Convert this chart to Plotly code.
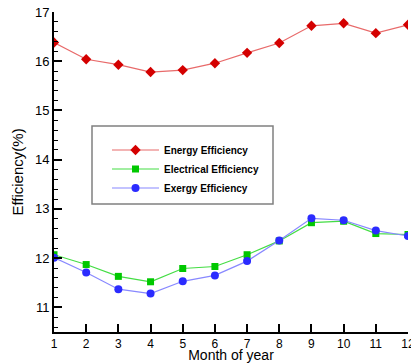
import plotly.graph_objects as go

months = [1, 2, 3, 4, 5, 6, 7, 8, 9, 10, 11, 12]
energy = [16.38, 16.04, 15.93, 15.78, 15.82, 15.96, 16.17, 16.37, 16.72, 16.77, 16.57, 16.74]
electrical = [12.07, 11.87, 11.63, 11.52, 11.79, 11.83, 12.07, 12.35, 12.72, 12.75, 12.50, 12.48]
exergy = [12.01, 11.71, 11.37, 11.28, 11.53, 11.65, 11.94, 12.36, 12.81, 12.77, 12.56, 12.45]

fig = go.Figure()
fig.add_trace(go.Scatter(x=months, y=energy, name="Energy Efficiency", mode="lines+markers",
                         line=dict(color="#e86a6a", width=1.2),
                         marker=dict(symbol="diamond", size=8, color="#d40000")))
fig.add_trace(go.Scatter(x=months, y=electrical, name="Electrical Efficiency", mode="lines+markers",
                         line=dict(color="#44dd44", width=1.2),
                         marker=dict(symbol="square", size=7, color="#00c800")))
fig.add_trace(go.Scatter(x=months, y=exergy, name="Exergy Efficiency", mode="lines+markers",
                         line=dict(color="#8888ff", width=1.2),
                         marker=dict(symbol="circle", size=8, color="#2b2bff")))

# plot area in the page: x 54..408, y 12..332
PX0, PW, PY1, PH = 54, 354, 332, 320

# legend frame
fig.add_shape(type="rect", xref="paper", yref="paper",
              x0=(92 - PX0) / PW, x1=(273 - PX0) / PW,
              y0=(PY1 - 204) / PH, y1=(PY1 - 126) / PH,
              line=dict(color="#808080", width=1.5), fillcolor="rgba(0,0,0,0)", layer="above")

fig.update_layout(
    width=411, height=363,
    margin=dict(l=54, r=3, t=12, b=31, autoexpand=False),
    paper_bgcolor="white", plot_bgcolor="white",
    font=dict(family="Liberation Sans, Arial", color="black"),
    showlegend=True,
    legend=dict(x=(107 - PX0) / PW, y=(PY1 - 169) / PH, xanchor="left", yanchor="middle",
                bgcolor="rgba(0,0,0,0)", borderwidth=0, itemwidth=47,
                font=dict(size=10, family="Liberation Sans, Arial", weight="bold"),
                tracegroupgap=0),
    xaxis=dict(range=[1, 12], tickmode="linear", tick0=1, dtick=1,
               showgrid=False, zeroline=False, showline=True, linecolor="black", linewidth=2,
               ticks="inside", ticklen=8, tickwidth=1.5, tickcolor="black",
               tickfont=dict(size=12), automargin=False, ticklabeloverflow="allow",
               title=dict(text="Month of year", font=dict(size=14), standoff=3)),
    yaxis=dict(range=[10.5, 17], tickmode="linear", tick0=11, dtick=1,
               showgrid=False, zeroline=False, showline=True, linecolor="black", linewidth=2,
               ticks="inside", ticklen=8, tickwidth=1.5, tickcolor="black",
               minor=dict(dtick=0.2, ticks="inside", ticklen=4, tickcolor="black", tickwidth=1),
               tickfont=dict(size=13), automargin=False, ticklabeloverflow="allow",
               title=dict(text="Efficiency(%)", font=dict(size=15), standoff=8)),
)
fig.write_html("out.html", config={"displayModeBar": False},
               post_script="document.body.style.margin='0';document.body.style.overflow='hidden';")
